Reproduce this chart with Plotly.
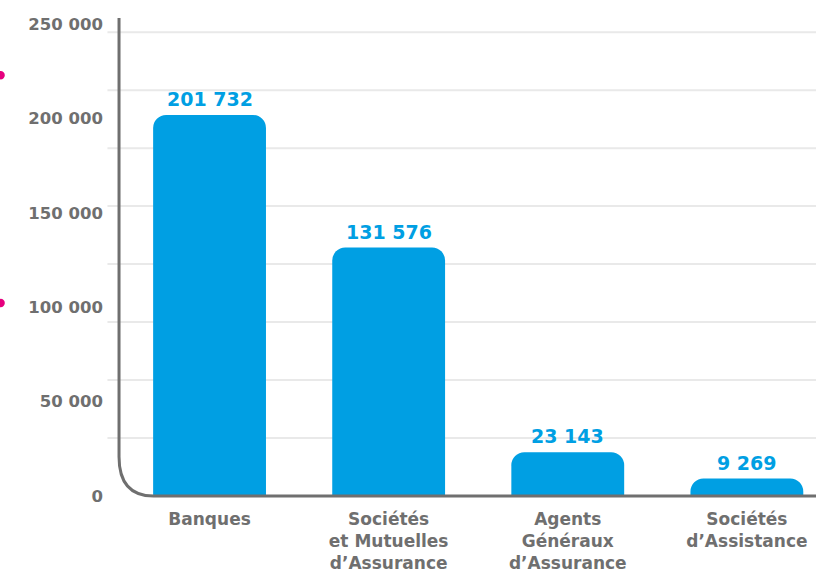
import plotly.graph_objects as go

categories = ["Banques", "Sociétés<br>et Mutuelles<br>d’Assurance", "Agents<br>Généraux<br>d’Assurance", "Sociétés<br>d’Assistance"]
values = [201732, 131576, 23143, 9269]
tick_values = [0, 50000, 100000, 150000, 200000, 250000]
grid_step = 30700
grid_count = 8

BLUE = "#009fe3"
GREY = "#6f6f6f"
FONT = "DejaVu Sans"

fig = go.Figure()
fig.add_trace(go.Bar(
    x=list(range(len(categories))), y=values,
    marker=dict(color=BLUE, cornerradius=13, line=dict(width=0)),
    width=0.63, hoverinfo="skip",
))

for i, v in enumerate(values):
    fig.add_annotation(
        x=i, y=v, text="<b>" + f"{v:,}".replace(",", " ") + "</b>",
        showarrow=False, yanchor="bottom", yshift=3,
        font=dict(family=FONT, size=19, color=BLUE),
    )

# light gridlines
for k in range(1, grid_count + 1):
    fig.add_shape(type="line", xref="paper", yref="y", x0=-0.018, x1=1,
                  y0=k * grid_step, y1=k * grid_step,
                  line=dict(color="#e9e9e9", width=2), layer="below")

# axis with rounded corner
fig.add_shape(type="path", xref="paper", yref="paper",
              path="M -0.0014,0.9735 L -0.0014,0.08 Q -0.0014,0 0.048,0 L 1,0",
              line=dict(color=GREY, width=3), layer="above")

# edge decorations (cropped artefacts)
for yy in [0.857, 0.393]:
    fig.add_shape(type="circle", xref="paper", yref="paper",
                  x0=-0.1775, x1=-0.1655, y0=yy - 0.0085, y1=yy + 0.0085,
                  fillcolor="#e6007e", line=dict(width=0))

fig.update_layout(
    width=816, height=571,
    margin=dict(l=120, r=0, t=5, b=75),
    plot_bgcolor="white", paper_bgcolor="white",
    showlegend=False,
    separators=", ",
    xaxis=dict(
        tickmode="array", tickvals=list(range(len(categories))), ticktext=[f"<b>{c}</b>" for c in categories],
        range=[-0.5, 3.386], showline=False, showgrid=False, zeroline=False,
        ticks="", ticklabelstandoff=11, automargin=False,
        tickfont=dict(family=FONT, size=17, color=GREY),
    ),
    yaxis=dict(
        range=[0, 260000], tickmode="array", tickvals=tick_values,
        ticktext=["<b>" + f"{t:,}".replace(",", " ") + "</b>" for t in tick_values],
        showgrid=False, zeroline=False, showline=False, ticks="",
        ticklabelstandoff=16, automargin=False,
        tickfont=dict(family=FONT, size=16.5, color=GREY),
    ),
)

fig.write_html("out.html", config={"displayModeBar": False},
               post_script="document.body.style.margin='0';document.body.style.overflow='hidden';")
